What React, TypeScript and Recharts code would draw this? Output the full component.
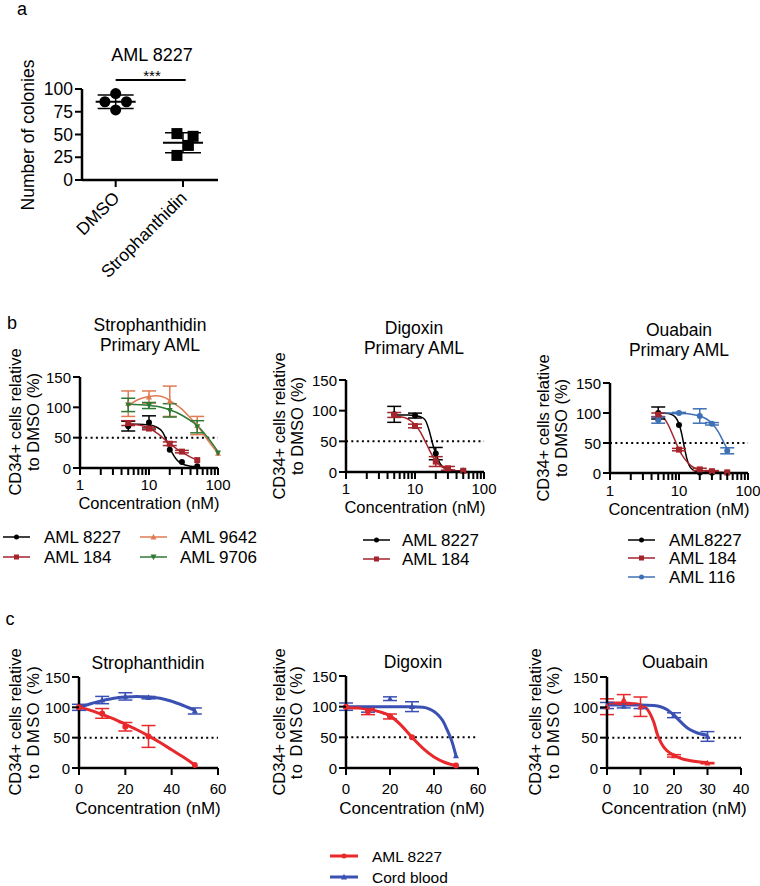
import React from 'react';
import { ComposedChart, Scatter, Line, XAxis, YAxis, ErrorBar, ReferenceLine } from 'recharts';

const FONT = '"Liberation Sans", Arial, Helvetica, sans-serif';

// ---------------- Panel a ----------------
const aCategories = ['DMSO', 'Strophanthidin'];
const aDmsoColonies = [95, 86, 86, 77];
const aStroColonies = [51, 48, 38, 27];
const aDmsoSpread = [0, -0.16, 0.16, 0];
const aStroSpread = [-0.09, 0.15, 0.08, -0.09];
const aMean = [86, 41];
const aSD = [7.3, 11];
const aYTicks = [0, 25, 50, 75, 100];
const aBracketLevel = 110;

// ---------------- shared ticks ----------------
const logTicks = [1, 2, 3, 4, 5, 6, 7, 8, 9, 10, 20, 30, 40, 50, 60, 70, 80, 90, 100];
const logLabelTicks = [1, 10, 100];
const pctTicks = [0, 50, 100, 150];
const c60Ticks = [0, 20, 40, 60];
const c40Ticks = [0, 10, 20, 30, 40];

// ---------------- Panel b: Strophanthidin ----------------
const b1Names = ['AML 8227', 'AML 184', 'AML 9642', 'AML 9706'];
const b1Conc = [5, 10, 20, 30, 50];
const b1ConcWide = [5, 10, 20, 50, 100];
const b1Aml8227 = [69, 75, 30, 10, 3];
const b1Aml8227Err = [8, 11, 0, 0, 0];
const b1Aml8227FitConc = [5, 7, 10, 12, 14, 16, 18, 20, 23, 26, 30, 40, 50];
const b1Aml8227Fit = [72, 72, 71, 69, 65, 58, 45, 33, 20, 12, 7, 3, 2];
const b1Aml184 = [74, 65, 40, 27, 13];
const b1Aml184Err = [4, 2, 3, 2, 0];
const b1Aml184FitConc = [5, 7, 10, 14, 20, 25, 30, 40, 50];
const b1Aml184Fit = [73, 71, 66, 55, 40, 32, 26, 18, 13];
const b1Aml9642 = [106, 117, 110, 70, 24];
const b1Aml9642Err = [21, 10, 25, 15, 0];
const b1Aml9642FitConc = [5, 7, 10, 13, 17, 20, 30, 40, 50, 70, 100];
const b1Aml9642Fit = [103, 113, 118, 119, 116, 111, 97, 82, 70, 47, 24];
const b1Aml9706 = [104, 103, 95, 68, 25];
const b1Aml9706Err = [11, 5, 11, 10, 0];
const b1Aml9706FitConc = [5, 10, 15, 20, 30, 40, 50, 70, 100];
const b1Aml9706Fit = [105, 103, 100, 96, 87, 78, 70, 51, 27];

// ---------------- Panel b: Digoxin ----------------
const b2Names = ['AML 8227', 'AML 184'];
const b2Conc = [5, 10, 20, 30, 50];
const b2Aml8227 = [94, 92, 30, 4, 2];
const b2Aml8227Err = [13, 4, 10, 0, 0];
const b2Aml8227FitConc = [5, 8, 10, 12, 14, 16, 17, 18, 20, 23, 27, 30, 40, 50];
const b2Aml8227Fit = [93, 93, 92, 90, 85, 68, 57, 46, 30, 14, 6, 4, 2, 1];
const b2Aml184 = [93, 75, 17, 6, 2];
const b2Aml184Err = [4, 3, 8, 3, 0];
const b2Aml184FitConc = [5, 7, 9, 10, 12, 14, 16, 18, 20, 25, 30, 40, 50];
const b2Aml184Fit = [91, 89, 82, 77, 65, 50, 37, 26, 18, 8, 4, 2, 1];

// ---------------- Panel b: Ouabain ----------------
const b3Names = ['AML8227', 'AML 184', 'AML 116'];
const b3Conc = [5, 10, 20, 30, 50];
const b3Aml8227 = [100, 80, 1, 0.5, 0.5];
const b3Aml8227Err = [10, 0, 0, 0, 0];
const b3Aml8227FitConc = [5, 7, 8, 9, 10, 11, 12, 13, 14, 16, 20, 30, 50];
const b3Aml8227Fit = [100, 99, 97, 92, 82, 64, 42, 24, 13, 5, 1, 0, 0];
const b3Aml184 = [97, 39, 6, 3, 1];
const b3Aml184Err = [3, 2, 2, 1, 0];
const b3Aml184FitConc = [5, 6, 7, 8, 9, 10, 12, 15, 20, 30, 50];
const b3Aml184Fit = [98, 92, 80, 65, 51, 39, 24, 12, 5, 2, 1];
const b3Aml116 = [88, 100, 95, 82, 37];
const b3Aml116Err = [5, 1, 12, 2, 5];
const b3Aml116FitConc = [5, 10, 15, 20, 25, 30, 35, 40, 45, 50];
const b3Aml116Fit = [100, 100, 98, 95, 90, 83, 73, 62, 50, 40];

// ---------------- Panel c ----------------
const cNames = ['AML 8227', 'Cord blood'];
const cFitConc50 = [0, 5, 10, 15, 20, 25, 30, 35, 40, 45, 50];
// Strophanthidin
const c1Conc = [0, 10, 20, 30, 50];
const c1Aml = [100, 90, 68, 52, 5];
const c1AmlErr = [0, 8, 7, 18, 0];
const c1AmlFit = [100, 95, 88, 81, 72, 63, 53, 42, 30, 18, 5];
const c1Cord = [100, 112, 118, 116, 94];
const c1CordErr = [5, 6, 6, 2, 5];
const c1CordFit = [100, 106, 111, 115, 117, 118, 117, 115, 110, 103, 95];
// Digoxin
const c2Conc = [0, 10, 20, 30, 50];
const c2Aml = [100, 92, 84, 50, 4];
const c2AmlErr = [0, 5, 4, 0, 0];
const c2AmlFit = [98, 98, 96, 92, 85, 70, 50, 32, 18, 9, 4];
const c2Cord = [100, 95, 113, 100, 20];
const c2CordErr = [6, 4, 3, 8, 0];
const c2CordFitConc = [0, 10, 20, 30, 35, 38, 40, 42, 44, 46, 48, 50];
const c2CordFit = [100, 100, 100, 100, 99, 96, 92, 86, 77, 62, 45, 20];
// Ouabain
const c3Conc = [0, 5, 10, 20, 30];
const c3Aml = [101, 113, 101, 20, 8];
const c3AmlErr = [13, 8, 16, 2, 1];
const c3AmlFitConc = [0, 5, 8, 10, 12, 13, 14, 15, 16, 17, 18, 20, 22, 25, 30];
const c3AmlFit = [107, 107, 106, 104, 97, 88, 75, 56, 43, 34, 28, 21, 16, 12, 9];
const c3Cord = [103, 102, 101, 87, 52];
const c3CordErr = [5, 3, 3, 4, 8];
const c3CordFitConc = [0, 5, 10, 14, 16, 18, 20, 22, 24, 26, 28, 30];
const c3CordFit = [104, 104, 104, 103, 101, 96, 87, 76, 66, 60, 56, 54];

// ---------------- colours ----------------
const BLACK = '#000000';
const DARKRED = '#a5252c';
const ORANGE = '#e07b52';
const GREEN = '#2f7a34';
const BBLUE = '#3e70b6';
const CRED = '#e8282b';
const CBLUE = '#3a50b2';

type Pt = { x: number; y: number; err?: number };
const pts = (conc: number[], vals: number[], errs?: number[]): Pt[] =>
  conc.map((c, i) => ({ x: c, y: vals[i], err: errs ? errs[i] : undefined }));

type Series = { name: string; color: string; shape: string; points: Pt[]; fit: Pt[] };

function markerShape(kind: string, color: string, s: number) {
  return (props: any) => {
    const { cx, cy } = props;
    if (cx == null || cy == null || isNaN(cx) || isNaN(cy)) return <g />;
    if (kind === 'circle') return <circle cx={cx} cy={cy} r={s / 2} fill={color} />;
    if (kind === 'square')
      return <rect x={cx - s / 2} y={cy - s / 2} width={s} height={s} fill={color} />;
    if (kind === 'tri')
      return (
        <polygon
          points={`${cx},${cy - s * 0.55} ${cx + s / 2},${cy + s * 0.4} ${cx - s / 2},${cy + s * 0.4}`}
          fill={color}
        />
      );
    return (
      <polygon
        points={`${cx},${cy + s * 0.55} ${cx + s / 2},${cy - s * 0.4} ${cx - s / 2},${cy - s * 0.4}`}
        fill={color}
      />
    );
  };
}

function DoseXTick(props: any) {
  const { x, y, payload, labels, labelDy, fontSize } = props;
  const v = payload.value;
  const major = labels.includes(v);
  return (
    <g>
      <line x1={x} y1={y} x2={x} y2={y + 7} stroke="#000" strokeWidth={2} />
      {major ? (
        <text x={x} y={y + labelDy} textAnchor="middle" dominantBaseline="central" fontSize={fontSize} fontFamily={FONT} fill="#000">
          {v}
        </text>
      ) : null}
    </g>
  );
}

function LeftTick(props: any) {
  const { x, y, payload, fontSize } = props;
  return (
    <g>
      <line x1={x - 7} y1={y} x2={x} y2={y} stroke="#000" strokeWidth={2} />
      <text x={x - 9} y={y} textAnchor="end" dominantBaseline="central" fontSize={fontSize} fontFamily={FONT} fill="#000">
        {payload.value}
      </text>
    </g>
  );
}

function DoseChart(props: {
  plot: number[];
  logX: boolean;
  xDomain: number[];
  xTicks: number[];
  labelTicks: number[];
  series: Series[];
  lw: number;
  ms: number;
  labelDy: number;
  errW: number;
}) {
  const { plot, logX, xDomain, xTicks, labelTicks, series, lw, ms, labelDy, errW } = props;
  const ML = 60, MT = 12, MR = 14, XH = 40;
  const w = plot[2] - plot[0] + ML + MR;
  const h = plot[3] - plot[1] + MT + XH;
  return (
    <div style={{ position: 'absolute', left: plot[0] - ML, top: plot[1] - MT }}>
      <ComposedChart width={w} height={h} margin={{ top: MT, right: MR, left: 0, bottom: 0 }}>
        <XAxis
          dataKey="x"
          type="number"
          scale={logX ? 'log' : 'linear'}
          domain={xDomain}
          ticks={xTicks}
          interval={0}
          height={XH}
          axisLine={{ stroke: '#000', strokeWidth: 2.5 }}
          tickLine={false}
          tickSize={0}
          tickMargin={0}
          tick={(p: any) => <DoseXTick {...p} labels={labelTicks} labelDy={labelDy} fontSize={15} />}
        />
        <YAxis
          type="number"
          domain={[0, 150]}
          ticks={pctTicks}
          interval={0}
          width={ML}
          axisLine={{ stroke: '#000', strokeWidth: 2.5 }}
          tickLine={false}
          tickSize={0}
          tickMargin={0}
          tick={(p: any) => <LeftTick {...p} fontSize={15} />}
        />
        <ReferenceLine y={50} stroke="#000" strokeWidth={2} strokeDasharray="2 3.3" />
        {series.map((s) => (
          <Line
            key={'l' + s.name}
            data={s.fit}
            dataKey="y"
            type="monotone"
            stroke={s.color}
            strokeWidth={lw}
            dot={false}
            activeDot={false}
            isAnimationActive={false}
          />
        ))}
        {series.map((s) => (
          <Scatter
            key={'s' + s.name}
            data={s.points}
            dataKey="y"
            fill={s.color}
            shape={markerShape(s.shape, s.color, ms)}
            isAnimationActive={false}
          >
            <ErrorBar dataKey="err" direction="y" width={errW} stroke={s.color} strokeWidth={1.5} />
          </Scatter>
        ))}
      </ComposedChart>
    </div>
  );
}

function ATick(props: any) {
  const { x, y, payload } = props;
  const label = aCategories[payload.value - 1];
  const ax = x + 5;
  const ay = y + 19;
  return (
    <g>
      <line x1={x} y1={y} x2={x} y2={y + 7} stroke="#000" strokeWidth={2} />
      <text x={ax} y={ay} textAnchor="end" transform={`rotate(-45 ${ax} ${ay})`} fontSize={17.5} fontFamily={FONT} fill="#000">
        {label}
      </text>
    </g>
  );
}

function PanelA() {
  const plot = [82, 89, 218, 180];
  const ML = 70, MT = 30, MR = 30, XH = 130;
  const w = plot[2] - plot[0] + ML + MR;
  const h = plot[3] - plot[1] + MT + XH;
  const dmso = aDmsoColonies.map((v, i) => ({ x: 1 + aDmsoSpread[i], y: v }));
  const stro = aStroColonies.map((v, i) => ({ x: 2 + aStroSpread[i], y: v }));
  const summary = aMean.map((m, i) => ({ x: i + 1, y: m, sd: aSD[i] }));
  const meanShape = (p: any) => {
    if (p.cx == null || p.cy == null) return <g />;
    return <line x1={p.cx - 20} y1={p.cy} x2={p.cx + 20} y2={p.cy} stroke="#000" strokeWidth={2} />;
  };
  return (
    <div style={{ position: 'absolute', left: plot[0] - ML, top: plot[1] - MT }}>
      <ComposedChart width={w} height={h} margin={{ top: MT, right: MR, left: 0, bottom: 0 }}>
        <XAxis
          dataKey="x"
          type="number"
          domain={[0.5, 2.52]}
          ticks={[1, 2]}
          interval={0}
          height={XH}
          axisLine={{ stroke: '#000', strokeWidth: 2.5 }}
          tickLine={false}
          tickSize={0}
          tickMargin={0}
          tick={(p: any) => <ATick {...p} />}
        />
        <YAxis
          type="number"
          domain={[0, 100]}
          ticks={aYTicks}
          interval={0}
          width={ML}
          axisLine={{ stroke: '#000', strokeWidth: 2.5 }}
          tickLine={false}
          tickSize={0}
          tickMargin={0}
          tick={(p: any) => <LeftTick {...p} fontSize={17.5} />}
        />
        <ReferenceLine
          segment={[{ x: 1, y: aBracketLevel }, { x: 2.04, y: aBracketLevel }]}
          stroke="#000"
          strokeWidth={2}
          ifOverflow="visible"
        />
        <Scatter data={summary} dataKey="y" shape={meanShape} isAnimationActive={false}>
          <ErrorBar dataKey="sd" direction="y" width={18} stroke="#000" strokeWidth={1.5} />
        </Scatter>
        <Scatter data={dmso} dataKey="y" shape={markerShape('circle', BLACK, 11)} isAnimationActive={false} />
        <Scatter data={stro} dataKey="y" shape={markerShape('square', BLACK, 11)} isAnimationActive={false} />
      </ComposedChart>
    </div>
  );
}

const Txt = (p: { x: number; y: number; size: number; children: any; anchor?: string; rot?: boolean; ls?: number }) => (
  <text
    x={p.x}
    y={p.y}
    fontSize={p.size}
    textAnchor={(p.anchor || 'middle') as any}
    dominantBaseline="central"
    fontFamily={FONT}
    fill="#000"
    letterSpacing={p.ls}
    transform={p.rot ? `rotate(-90 ${p.x} ${p.y})` : undefined}
  >
    {p.children}
  </text>
);

const LegendItem = (p: { x1: number; x2: number; tx: number; y: number; color: string; shape: string; label: string; size: number; lw: number; ms: number }) => (
  <g>
    <line x1={p.x1} y1={p.y} x2={p.x2} y2={p.y} stroke={p.color} strokeWidth={p.lw} />
    {markerShape(p.shape, p.color, p.ms)({ cx: (p.x1 + p.x2) / 2, cy: p.y })}
    <Txt x={p.tx} y={p.y} size={p.size} anchor="start">
      {p.label}
    </Txt>
  </g>
);

export default function App() {
  const b1: Series[] = [
    { name: b1Names[0], color: BLACK, shape: 'circle', points: pts(b1Conc, b1Aml8227, b1Aml8227Err), fit: pts(b1Aml8227FitConc, b1Aml8227Fit) },
    { name: b1Names[1], color: DARKRED, shape: 'square', points: pts(b1Conc, b1Aml184, b1Aml184Err), fit: pts(b1Aml184FitConc, b1Aml184Fit) },
    { name: b1Names[2], color: ORANGE, shape: 'tri', points: pts(b1ConcWide, b1Aml9642, b1Aml9642Err), fit: pts(b1Aml9642FitConc, b1Aml9642Fit) },
    { name: b1Names[3], color: GREEN, shape: 'triDown', points: pts(b1ConcWide, b1Aml9706, b1Aml9706Err), fit: pts(b1Aml9706FitConc, b1Aml9706Fit) },
  ];
  const b2: Series[] = [
    { name: b2Names[0], color: BLACK, shape: 'circle', points: pts(b2Conc, b2Aml8227, b2Aml8227Err), fit: pts(b2Aml8227FitConc, b2Aml8227Fit) },
    { name: b2Names[1], color: DARKRED, shape: 'square', points: pts(b2Conc, b2Aml184, b2Aml184Err), fit: pts(b2Aml184FitConc, b2Aml184Fit) },
  ];
  const b3: Series[] = [
    { name: b3Names[0], color: BLACK, shape: 'circle', points: pts(b3Conc, b3Aml8227, b3Aml8227Err), fit: pts(b3Aml8227FitConc, b3Aml8227Fit) },
    { name: b3Names[1], color: DARKRED, shape: 'square', points: pts(b3Conc, b3Aml184, b3Aml184Err), fit: pts(b3Aml184FitConc, b3Aml184Fit) },
    { name: b3Names[2], color: BBLUE, shape: 'circle', points: pts(b3Conc, b3Aml116, b3Aml116Err), fit: pts(b3Aml116FitConc, b3Aml116Fit) },
  ];
  const c1: Series[] = [
    { name: cNames[1], color: CBLUE, shape: 'tri', points: pts(c1Conc, c1Cord, c1CordErr), fit: pts(cFitConc50, c1CordFit) },
    { name: cNames[0], color: CRED, shape: 'circle', points: pts(c1Conc, c1Aml, c1AmlErr), fit: pts(cFitConc50, c1AmlFit) },
  ];
  const c2: Series[] = [
    { name: cNames[1], color: CBLUE, shape: 'tri', points: pts(c2Conc, c2Cord, c2CordErr), fit: pts(c2CordFitConc, c2CordFit) },
    { name: cNames[0], color: CRED, shape: 'circle', points: pts(c2Conc, c2Aml, c2AmlErr), fit: pts(cFitConc50, c2AmlFit) },
  ];
  const c3: Series[] = [
    { name: cNames[1], color: CBLUE, shape: 'tri', points: pts(c3Conc, c3Cord, c3CordErr), fit: pts(c3CordFitConc, c3CordFit) },
    { name: cNames[0], color: CRED, shape: 'tri', points: pts(c3Conc, c3Aml, c3AmlErr), fit: pts(c3AmlFitConc, c3AmlFit) },
  ];

  return (
    <div style={{ position: 'absolute', left: 0, top: 0, width: 760, height: 886, background: '#fff', overflow: 'hidden', fontFamily: FONT }}>
      <PanelA />
      <DoseChart plot={[80, 377, 218, 468]} logX xDomain={[1, 100]} xTicks={logTicks} labelTicks={logLabelTicks} series={b1} lw={1.5} ms={6} labelDy={16} errW={7} />
      <DoseChart plot={[346, 380, 484, 472]} logX xDomain={[1, 100]} xTicks={logTicks} labelTicks={logLabelTicks} series={b2} lw={1.5} ms={6} labelDy={16} errW={7} />
      <DoseChart plot={[610, 383, 748, 473]} logX xDomain={[1, 100]} xTicks={logTicks} labelTicks={logLabelTicks} series={b3} lw={1.5} ms={6} labelDy={17} errW={7} />
      <DoseChart plot={[79, 677, 218, 768]} logX={false} xDomain={[0, 60]} xTicks={c60Ticks} labelTicks={c60Ticks} series={c1} lw={3} ms={6} labelDy={20} errW={7} />
      <DoseChart plot={[346, 676, 478, 768]} logX={false} xDomain={[0, 60]} xTicks={c60Ticks} labelTicks={c60Ticks} series={c2} lw={3} ms={6} labelDy={20} errW={7} />
      <DoseChart plot={[607, 677, 741, 768]} logX={false} xDomain={[0, 40]} xTicks={c40Ticks} labelTicks={c40Ticks} series={c3} lw={3} ms={6} labelDy={20} errW={7} />

      <svg width={760} height={886} style={{ position: 'absolute', left: 0, top: 0, pointerEvents: 'none' }}>
        {/* panel letters */}
        <Txt x={22} y={9} size={18}>a</Txt>
        <Txt x={12} y={323} size={18}>b</Txt>
        <Txt x={10} y={619} size={18}>c</Txt>

        {/* panel a */}
        <Txt x={152} y={55} size={18}>AML 8227</Txt>
        <Txt x={152} y={75} size={15}>***</Txt>
        <Txt x={28} y={135} size={17.5} rot>Number of colonies</Txt>

        {/* panel b titles */}
        <Txt x={150} y={325} size={17.5}>Strophanthidin</Txt>
        <Txt x={150} y={345} size={17.5}>Primary AML</Txt>
        <Txt x={414} y={328} size={17.5}>Digoxin</Txt>
        <Txt x={414} y={348} size={17.5}>Primary AML</Txt>
        <Txt x={679} y={330} size={17.5}>Ouabain</Txt>
        <Txt x={679} y={350} size={17.5}>Primary AML</Txt>

        {/* panel b y labels */}
        <Txt x={15} y={422} size={16.5} rot>CD34+ cells relative</Txt>
        <Txt x={33} y={422} size={16.5} rot>to DMSO (%)</Txt>
        <Txt x={279} y={426} size={16.5} rot>CD34+ cells relative</Txt>
        <Txt x={297} y={426} size={16.5} rot>to DMSO (%)</Txt>
        <Txt x={543} y={428} size={16.5} rot>CD34+ cells relative</Txt>
        <Txt x={561} y={428} size={16.5} rot>to DMSO (%)</Txt>

        {/* panel b x labels */}
        <Txt x={149} y={503} size={16.5}>Concentration (nM)</Txt>
        <Txt x={415} y={507} size={16.5}>Concentration (nM)</Txt>
        <Txt x={679} y={509} size={16.5}>Concentration (nM)</Txt>

        {/* panel b legends */}
        <LegendItem x1={3} x2={30} tx={44} y={537} color={BLACK} shape="circle" label={b1Names[0]} size={17} lw={1.5} ms={5} />
        <LegendItem x1={3} x2={30} tx={44} y={557} color={DARKRED} shape="square" label={b1Names[1]} size={17} lw={1.5} ms={5} />
        <LegendItem x1={140} x2={167} tx={180} y={537} color={ORANGE} shape="tri" label={b1Names[2]} size={17} lw={1.5} ms={6} />
        <LegendItem x1={140} x2={167} tx={180} y={557} color={GREEN} shape="triDown" label={b1Names[3]} size={17} lw={1.5} ms={6} />

        <LegendItem x1={363} x2={390} tx={402} y={540} color={BLACK} shape="circle" label={b2Names[0]} size={17} lw={1.5} ms={5} />
        <LegendItem x1={363} x2={390} tx={402} y={559} color={DARKRED} shape="square" label={b2Names[1]} size={17} lw={1.5} ms={5} />

        <LegendItem x1={628} x2={655} tx={669} y={540} color={BLACK} shape="circle" label={b3Names[0]} size={17} lw={1.5} ms={5} />
        <LegendItem x1={628} x2={655} tx={669} y={558} color={DARKRED} shape="square" label={b3Names[1]} size={17} lw={1.5} ms={5} />
        <LegendItem x1={628} x2={655} tx={669} y={577} color={BBLUE} shape="circle" label={b3Names[2]} size={17} lw={1.5} ms={5} />

        {/* panel c titles */}
        <Txt x={148} y={663} size={17.5}>Strophanthidin</Txt>
        <Txt x={413} y={662} size={17.5}>Digoxin</Txt>
        <Txt x={675} y={662} size={17.5}>Ouabain</Txt>

        {/* panel c y labels */}
        <Txt x={15} y={722} size={16.5} rot>CD34+ cells relative</Txt>
        <Txt x={33} y={722} size={16.5} rot ls={1.5}>to DMSO (%)</Txt>
        <Txt x={279} y={722} size={16.5} rot>CD34+ cells relative</Txt>
        <Txt x={296} y={722} size={16.5} rot ls={1.5}>to DMSO (%)</Txt>
        <Txt x={535} y={722} size={16.5} rot>CD34+ cells relative</Txt>
        <Txt x={553} y={722} size={16.5} rot ls={1.5}>to DMSO (%)</Txt>

        {/* panel c x labels */}
        <Txt x={148} y={808} size={17}>Concentration (nM)</Txt>
        <Txt x={412} y={808} size={17}>Concentration (nM)</Txt>
        <Txt x={674} y={808} size={17}>Concentration (nM)</Txt>

        {/* panel c legend */}
        <LegendItem x1={330} x2={358} tx={372} y={856} color={CRED} shape="circle" label={cNames[0]} size={15.5} lw={3} ms={5} />
        <LegendItem x1={330} x2={358} tx={372} y={877} color={CBLUE} shape="tri" label={cNames[1]} size={15.5} lw={3} ms={6} />
      </svg>
    </div>
  );
}
